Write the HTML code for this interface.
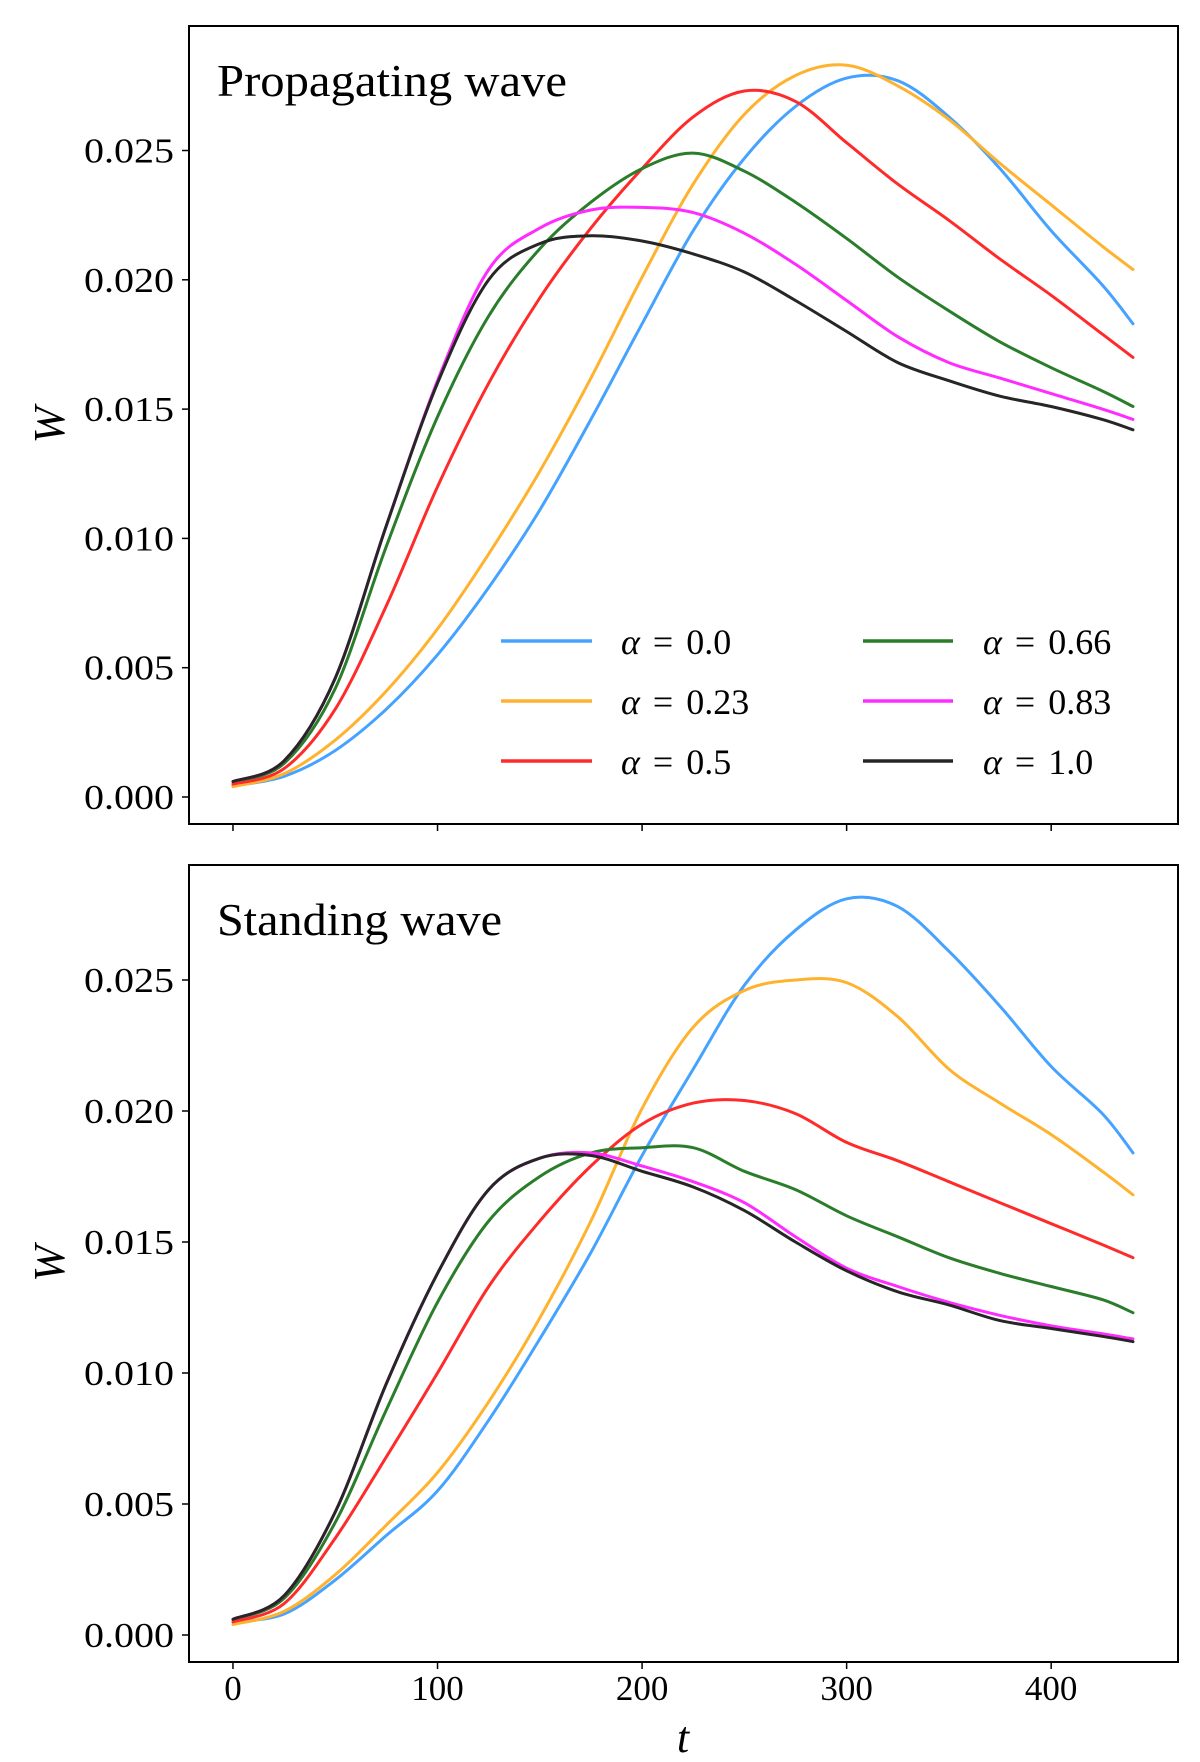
<!DOCTYPE html>
<html><head><meta charset="utf-8"><style>
html,body{margin:0;padding:0;background:#fff;}
svg{display:block;font-family:"Liberation Serif",serif;}
</style></head><body>
<svg id="chart" width="1200" height="1762" viewBox="0 0 1200 1762" xmlns="http://www.w3.org/2000/svg"></svg>
<script>
const times = [0,25,50,75,100,125,150,175,200,225,250,275,300,325,350,375,400,425,440];
const alphaLabels = ["0.0","0.23","0.5","0.66","0.83","1.0"];
const seriesColors = ["#45a3ff","#ffb22e","#ff2b2b","#2a7d2a","#ff2cff","#262626"];
const propBlue    = [0.00043,0.0008,0.0018,0.0034,0.0055,0.0081,0.0111,0.0146,0.0183,0.0219,0.0247,0.0267,0.0278,0.0277,0.0263,0.0243,0.0219,0.0198,0.0183];
const propOrange  = [0.0004,0.0009,0.0022,0.0041,0.0065,0.0094,0.0126,0.0162,0.0201,0.0237,0.0264,0.0279,0.0283,0.0275,0.0262,0.0245,0.0229,0.0213,0.0204];
const propRed     = [0.0005,0.0011,0.0034,0.0074,0.0120,0.0160,0.0193,0.0220,0.0243,0.0263,0.0273,0.0269,0.0253,0.0237,0.0223,0.0208,0.0194,0.0179,0.0170];
const propGreen   = [0.0006,0.0013,0.0042,0.0097,0.0147,0.0186,0.0212,0.0230,0.0243,0.0249,0.0242,0.0230,0.0216,0.0201,0.0188,0.0176,0.0166,0.0157,0.0151];
const propMagenta = [0.0006,0.0014,0.0046,0.0105,0.0161,0.0204,0.0220,0.0227,0.0228,0.0226,0.0218,0.0206,0.0192,0.0178,0.0168,0.0162,0.0156,0.0150,0.0146];
const propBlack   = [0.0006,0.0014,0.0046,0.0105,0.0160,0.0200,0.0214,0.0217,0.0215,0.0210,0.0203,0.0192,0.0180,0.0168,0.0161,0.0155,0.0151,0.0146,0.0142];
const standBlue    = [0.0005,0.0008,0.0021,0.0038,0.0055,0.0082,0.0113,0.0146,0.0183,0.0216,0.0248,0.0269,0.0281,0.0278,0.0261,0.0240,0.0217,0.0199,0.0184];
const standOrange  = [0.0004,0.0009,0.0023,0.0042,0.0062,0.0089,0.0121,0.0158,0.0201,0.0232,0.0246,0.0250,0.0249,0.0236,0.0216,0.0203,0.0191,0.0177,0.0168];
const standRed     = [0.0005,0.0012,0.0037,0.0068,0.0100,0.0133,0.0158,0.0179,0.0195,0.0203,0.0204,0.0199,0.0188,0.0181,0.0173,0.0165,0.0157,0.0149,0.0144];
const standGreen   = [0.0006,0.0014,0.0043,0.0086,0.0127,0.0158,0.0175,0.0184,0.0186,0.0186,0.0177,0.0170,0.0160,0.0152,0.0144,0.0138,0.0133,0.0128,0.0123];
const standMagenta = [0.0006,0.0015,0.0047,0.0096,0.0138,0.0170,0.0182,0.0184,0.0179,0.0173,0.0165,0.0152,0.0140,0.0133,0.0127,0.0122,0.0118,0.0115,0.0113];
const standBlack   = [0.0006,0.0015,0.0047,0.0096,0.0138,0.0170,0.0182,0.0183,0.0177,0.0171,0.0162,0.0150,0.0139,0.0131,0.0126,0.0120,0.0117,0.0114,0.0112];
const xTicks = [0,100,200,300,400];
const yTicks = [0,0.005,0.010,0.015,0.020,0.025];
const yTickLabels = ["0.000","0.005","0.010","0.015","0.020","0.025"];

const NS = "http://www.w3.org/2000/svg";
const svg = document.getElementById("chart");
function mk(tag, attrs, parent){ const e=document.createElementNS(NS,tag); for(const k in attrs) e.setAttribute(k,attrs[k]); (parent||svg).appendChild(e); return e; }
const X0=189, X1=1178, XMIN=-21.5, XMAX=462;
const xScale = t => X0 + (t - XMIN)/(XMAX - XMIN)*(X1 - X0);

function smoothPath(pts){
  let d = "M"+pts[0][0].toFixed(1)+","+pts[0][1].toFixed(1);
  for(let i=0;i<pts.length-1;i++){
    const p0=pts[Math.max(0,i-1)], p1=pts[i], p2=pts[i+1], p3=pts[Math.min(pts.length-1,i+2)];
    const c1=[p1[0]+(p2[0]-p0[0])/6, p1[1]+(p2[1]-p0[1])/6];
    const c2=[p2[0]-(p3[0]-p1[0])/6, p2[1]-(p3[1]-p1[1])/6];
    d += " C"+c1[0].toFixed(1)+","+c1[1].toFixed(1)+" "+c2[0].toFixed(1)+","+c2[1].toFixed(1)+" "+p2[0].toFixed(1)+","+p2[1].toFixed(1);
  }
  return d;
}

function panel(cfg){
  const g = mk("g",{});
  
  
  const yScale = v => cfg.y0 + v/0.025*(cfg.y25 - cfg.y0);
  cfg.series.forEach((vals,i)=>{
    const pts = times.map((t,j)=>[xScale(t), yScale(vals[j])]);
    const p = mk("path",{d:smoothPath(pts),fill:"none",stroke:seriesColors[i],"stroke-width":3,"stroke-linejoin":"round","stroke-linecap":"round"},g);
    
    
  });
  const fr = mk("rect",{x:X0,y:cfg.top,width:X1-X0,height:cfg.bottom-cfg.top,fill:"none",stroke:"#000","stroke-width":2},g);
  
  
  yTicks.forEach((v,i)=>{
    const y=yScale(v);
    const tk = mk("line",{x1:X0-7,x2:X0,y1:y,y2:y,stroke:"#000","stroke-width":1.5},g);
    
    
    const tx = mk("text",{x:X0-15,y:y+12,"text-anchor":"end","font-size":35,fill:"#000",textLength:90,lengthAdjust:"spacingAndGlyphs"},g);
    tx.textContent = yTickLabels[i];
    
    
  });
  xTicks.forEach(t=>{
    const x=xScale(t);
    const tk = mk("line",{x1:x,x2:x,y1:cfg.bottom,y2:cfg.bottom+7,stroke:"#000","stroke-width":1.5},g);
    
    
    if(cfg.xLabels){
      const tx = mk("text",{x:x,y:cfg.bottom+38,"text-anchor":"middle","font-size":35,fill:"#000"},g);
      tx.textContent = String(t);
      
      
    }
  });
  const ti = mk("text",{x:217,y:cfg.top+70,"font-size":46,fill:"#000",textLength:cfg.titleW,lengthAdjust:"spacingAndGlyphs"},g);
  ti.textContent = cfg.title;
  
  
  const cy=(cfg.top+cfg.bottom)/2;
  const yl = mk("text",{x:0,y:0,transform:"translate(64,"+cy+") rotate(-90)","text-anchor":"middle","font-size":44,"font-style":"italic",fill:"#000"},g);
  yl.textContent = "W";
  
  
  return g;
}

panel({name:"propagating-wave-panel",prefix:"propagating",top:26,bottom:824,y0:797,y25:150.5,title:"Propagating wave",titleW:350,xLabels:false,
  series:[propBlue,propOrange,propRed,propGreen,propMagenta,propBlack]});
panel({name:"standing-wave-panel",prefix:"standing",top:865,bottom:1662,y0:1635,y25:980,title:"Standing wave",titleW:285,xLabels:true,
  series:[standBlue,standOrange,standRed,standGreen,standMagenta,standBlack]});

const leg = mk("g",{});


const rowsY=[641,701,761], colLineX=[[501,592],[863,953]], colTextX=[621,983];
alphaLabels.forEach((lab,i)=>{
  const col=Math.floor(i/3), row=i%3, y=rowsY[row];
  const e = mk("g",{},leg);
  
  
  mk("line",{x1:colLineX[col][0],x2:colLineX[col][1],y1:y,y2:y,stroke:seriesColors[i],"stroke-width":3.5},e);
  const t = mk("text",{x:colTextX[col],y:y+13,"font-size":36,fill:"#000","word-spacing":"4px"},e);
  t.innerHTML = '<tspan font-style="italic">α</tspan> = '+lab;
});

const xt = mk("text",{x:683,y:1752,"text-anchor":"middle","font-size":44,"font-style":"italic",fill:"#000"});
xt.textContent = "t";


</script>
</body></html>
